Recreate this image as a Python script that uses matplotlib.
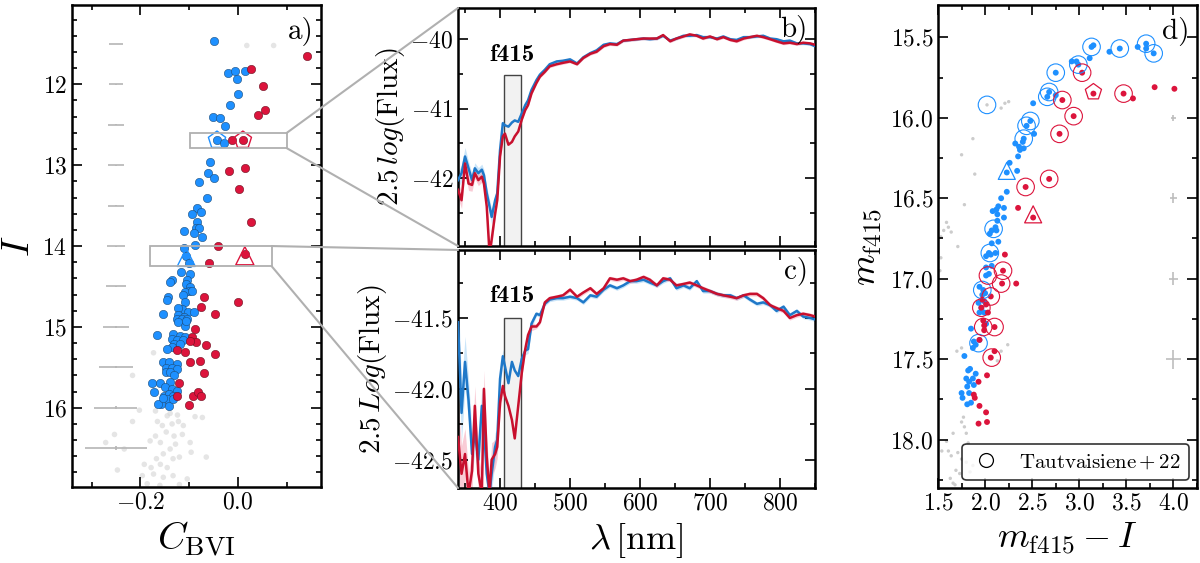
import matplotlib
matplotlib.use('Agg')
import matplotlib.pyplot as plt
from matplotlib.patches import Rectangle, ConnectionPatch
from matplotlib.lines import Line2D
from matplotlib.ticker import MultipleLocator

plt.rcParams['font.family'] = 'serif'
plt.rcParams['font.serif'] = ['cmr10']
plt.rcParams['mathtext.fontset'] = 'cm'
plt.rcParams['axes.formatter.use_mathtext'] = True

BLUE = '#1e90ff'
RED = '#dc143c'
BLUE_LINE = '#1f78c8'
RED_LINE = '#c8102e'

# ---- panel a: C_BVI vs I ----
blue_a_x = [-0.049, -0.020, -0.006, -0.002, 0.014, 0.000, -0.016, -0.051, -0.037, -0.027,
            -0.043, -0.029, -0.057, -0.061, -0.049, -0.080, -0.063, -0.084, -0.076, -0.094,
            -0.084, -0.086, -0.080, -0.110, -0.090, -0.073, -0.088, -0.110, -0.106, -0.100,
            -0.116, -0.098, -0.135, -0.139, -0.104, -0.106, -0.098, -0.100, -0.108, -0.094,
            -0.112, -0.143, -0.145, -0.108, -0.114, -0.122, -0.102, -0.090, -0.153, -0.122,
            -0.110, -0.124, -0.114, -0.104, -0.122, -0.108, -0.106, -0.165, -0.133, -0.118,
            -0.108, -0.135, -0.124, -0.112, -0.131, -0.118, -0.135, -0.145, -0.153, -0.141,
            -0.124, -0.147, -0.135, -0.124, -0.147, -0.139, -0.131, -0.139, -0.176, -0.159,
            -0.149, -0.135, -0.124, -0.173, -0.151, -0.141, -0.133, -0.145, -0.157, -0.163,
            -0.141, -0.153, -0.133]
blue_a_y = [11.46, 11.86, 11.84, 11.93, 11.83, 12.12, 12.26, 12.40, 12.42, 12.52,
            12.69, 12.73, 12.96, 13.10, 13.16, 13.21, 13.40, 13.53, 13.58, 13.60,
            13.70, 13.78, 13.78, 13.82, 13.84, 13.89, 13.99, 14.02, 14.12, 14.21,
            14.32, 14.35, 14.42, 14.45, 14.42, 14.47, 14.51, 14.56, 14.57, 14.55,
            14.60, 14.63, 14.67, 14.69, 14.78, 14.77, 14.81, 14.81, 14.84, 14.85,
            14.88, 14.90, 14.90, 14.90, 14.94, 14.99, 14.93, 15.10, 15.09, 15.11,
            15.12, 15.15, 15.16, 15.16, 15.21, 15.21, 15.25, 15.27, 15.44, 15.43,
            15.46, 15.51, 15.51, 15.52, 15.56, 15.56, 15.60, 15.68, 15.69, 15.69,
            15.74, 15.77, 15.79, 15.81, 15.85, 15.83, 15.85, 15.89, 15.95, 15.95,
            15.98, 15.88, 15.89]

red_a_x = [0.141, 0.027, 0.051, 0.055, 0.041, -0.012, 0.010, -0.018, 0.014, 0.002,
           0.027, -0.041, -0.059, 0.014, -0.069, 0.000, -0.076, -0.047, -0.088, -0.094,
           -0.086, -0.098, -0.065, -0.047, -0.124, -0.108, -0.098, -0.078, -0.069, -0.120,
           -0.124, -0.092, -0.082, -0.076, -0.100]
red_a_y = [11.65, 11.81, 12.02, 12.32, 12.38, 12.69, 12.69, 13.07, 13.04, 13.30,
           13.70, 14.00, 14.21, 14.10, 14.63, 14.69, 14.76, 14.84, 15.02, 15.12,
           15.19, 15.17, 15.23, 15.33, 15.28, 15.31, 15.43, 15.42, 15.57, 15.70,
           15.86, 15.86, 15.80, 15.85, 15.96]

gray_a_x = [0.018, 0.073, -0.173, -0.216, -0.202, -0.216, -0.169, -0.145, -0.139, -0.124,
            -0.088, -0.073, -0.165, -0.155, -0.135, -0.122, -0.112, -0.169, -0.131, -0.114,
            -0.098, -0.253, -0.271, -0.233, -0.180, -0.159, -0.139, -0.153, -0.167, -0.133,
            -0.120, -0.096, -0.065, -0.192, -0.178, -0.159, -0.145, -0.247, -0.196, -0.173,
            -0.153, -0.133, -0.104, -0.186, -0.160, -0.120, -0.147, -0.128]
gray_a_y = [11.52, 11.52, 15.32, 15.60, 16.03, 16.17, 16.04, 16.10, 16.07, 16.09,
            16.11, 16.12, 16.17, 16.22, 16.20, 16.17, 16.22, 16.35, 16.35, 16.33,
            16.43, 16.33, 16.43, 16.51, 16.41, 16.43, 16.51, 16.57, 16.63, 16.63,
            16.61, 16.55, 16.61, 16.70, 16.74, 16.70, 16.74, 16.77, 16.84, 16.82,
            16.86, 16.84, 16.88, 16.94, 16.96, 16.95, 16.30, 16.45]

err_a_mag = [11.5, 12.0, 12.5, 13.0, 13.5, 14.0, 14.5, 15.0, 15.5, 16.0, 16.5]
err_a_col = [0.015, 0.015, 0.016, 0.017, 0.017, 0.018, 0.020, 0.026, 0.034, 0.044, 0.063]
err_a_magerr = [0.004, 0.004, 0.004, 0.005, 0.005, 0.006, 0.007, 0.009, 0.012, 0.016, 0.022]

# ---- panels b, c: spectra ----
lam = [340, 345, 350, 355, 360, 364, 369, 374, 377, 381, 385, 388, 393, 396, 400,
       404, 407, 412, 417, 421, 426, 431, 436, 440, 445, 452, 457, 464, 471, 481,
       490, 500, 510, 519, 529, 538, 548, 557, 567, 576, 586, 595, 605, 614, 624,
       633, 643, 652, 662, 671, 681, 690, 700, 710, 719, 729, 738, 748, 757, 767,
       776, 786, 795, 805, 814, 824, 833, 843, 850]

flux_b_blue = [-42.03, -41.93, -41.69, -41.86, -42.03, -41.86, -41.93, -41.88, -41.96, -42.22,
               -42.41, -42.56, -42.32, -42.22, -41.60, -41.21, -41.24, -41.26, -41.20, -41.17,
               -41.19, -41.07, -40.95, -40.88, -40.73, -40.59, -40.51, -40.44, -40.36, -40.32,
               -40.31, -40.29, -40.35, -40.26, -40.20, -40.16, -40.08, -40.06, -40.07, -40.02,
               -40.01, -40.00, -39.99, -40.00, -39.99, -39.95, -40.02, -39.99, -39.95, -39.95,
               -39.94, -39.97, -39.97, -39.99, -39.96, -40.00, -40.01, -39.97, -39.97, -39.96,
               -39.95, -39.99, -40.00, -40.03, -40.02, -40.06, -40.06, -40.07, -40.10]
flux_b_red = [-42.17, -42.32, -41.79, -42.08, -42.10, -41.93, -42.03, -41.98, -42.08, -42.41,
              -43.09, -42.89, -42.51, -42.32, -41.69, -41.40, -41.36, -41.52, -41.48, -41.40,
              -41.33, -41.16, -41.02, -40.95, -40.78, -40.63, -40.54, -40.47, -40.39, -40.36,
              -40.34, -40.32, -40.36, -40.27, -40.21, -40.18, -40.10, -40.07, -40.08, -40.02,
              -40.01, -40.00, -39.99, -39.99, -39.99, -39.94, -40.03, -39.99, -39.96, -39.93,
              -39.95, -39.99, -39.96, -40.00, -39.97, -40.01, -40.03, -39.99, -39.97, -39.95,
              -39.97, -40.00, -40.03, -40.06, -40.05, -40.07, -40.05, -40.06, -40.08]
err_b = ([0.12, 0.12, 0.13, 0.10, 0.09, 0.08, 0.08, 0.08, 0.08, 0.09,
          0.10, 0.11, 0.08, 0.07, 0.05, 0.04, 0.03, 0.03, 0.03, 0.03]
         + [0.02] * 49)

flux_c_blue = [-41.53, -42.17, -41.81, -42.08, -42.46, -42.31, -42.50, -42.12, -42.27, -42.60,
               -42.74, -42.60, -42.41, -42.36, -41.93, -41.77, -41.84, -41.96, -41.81, -41.87,
               -41.91, -41.79, -41.73, -41.72, -41.54, -41.47, -41.48, -41.40, -41.37, -41.36,
               -41.36, -41.35, -41.36, -41.39, -41.34, -41.35, -41.30, -41.27, -41.29, -41.27,
               -41.24, -41.24, -41.23, -41.25, -41.27, -41.24, -41.22, -41.29, -41.27, -41.29,
               -41.24, -41.31, -41.31, -41.33, -41.34, -41.34, -41.36, -41.34, -41.37, -41.40,
               -41.39, -41.41, -41.45, -41.42, -41.48, -41.45, -41.49, -41.50, -41.51]
flux_c_red = [-42.34, -42.60, -42.46, -42.74, -42.58, -42.12, -42.60, -42.74, -42.00, -42.48,
              -42.74, -42.50, -42.46, -42.41, -42.10, -41.98, -42.05, -42.12, -42.22, -42.35,
              -42.12, -41.89, -41.72, -41.62, -41.56, -41.56, -41.53, -41.39, -41.36, -41.35,
              -41.34, -41.30, -41.35, -41.32, -41.29, -41.33, -41.29, -41.22, -41.23, -41.22,
              -41.24, -41.23, -41.21, -41.23, -41.27, -41.22, -41.23, -41.27, -41.26, -41.25,
              -41.27, -41.29, -41.31, -41.33, -41.34, -41.35, -41.36, -41.34, -41.33, -41.33,
              -41.36, -41.41, -41.43, -41.45, -41.50, -41.48, -41.47, -41.48, -41.49]
err_c = ([0.25, 0.20, 0.18, 0.15, 0.15, 0.14, 0.14, 0.13, 0.13, 0.13,
          0.12, 0.12, 0.10, 0.08, 0.06, 0.05, 0.04, 0.04, 0.04, 0.04,
          0.03, 0.03, 0.03, 0.03, 0.03]
         + [0.015] * 44)

f415_lo, f415_hi = 405, 430

# ---- panel d: m_f415 - I vs m_f415 ----
blue_d_x = [3.13, 3.15, 3.32, 3.43, 3.62, 3.71, 3.71, 3.79, 3.11, 2.92, 2.99, 2.97,
            2.75, 2.68, 2.66, 2.75, 2.51, 2.48, 2.44, 2.52, 2.41, 2.40, 2.32, 2.36,
            2.41, 2.37, 2.35, 2.26, 2.23, 2.34, 2.23, 2.17, 2.14, 2.12, 2.20, 2.08,
            2.13, 2.20, 2.13, 2.11, 2.07, 2.12, 2.05, 2.14, 2.07, 2.04, 2.01, 2.06,
            2.11, 2.01, 2.07, 2.01, 2.04, 1.94, 1.98, 1.97, 2.00, 1.93, 1.99, 1.96,
            1.94, 1.99, 2.01, 1.85, 1.88, 1.90, 1.87, 1.94, 1.78, 1.84, 1.82, 1.90,
            1.80, 1.83, 1.87, 1.81, 1.88, 1.75, 1.76, 1.83, 1.85, 1.81]
blue_d_y = [15.56, 15.55, 15.59, 15.57, 15.56, 15.54, 15.57, 15.60, 15.63, 15.65, 15.67, 15.65,
            15.72, 15.84, 15.87, 15.86, 15.91, 16.02, 16.05, 16.10, 16.13, 16.15, 16.16, 16.18,
            16.19, 16.20, 16.24, 16.28, 16.34, 16.33, 16.46, 16.50, 16.55, 16.57, 16.56, 16.58,
            16.60, 16.62, 16.64, 16.68, 16.70, 16.70, 16.72, 16.77, 16.78, 16.84, 16.86, 16.85,
            16.84, 16.93, 16.92, 16.98, 16.97, 17.05, 17.07, 17.10, 17.09, 17.15, 17.14, 17.18,
            17.21, 17.21, 17.28, 17.31, 17.39, 17.41, 17.43, 17.38, 17.48, 17.56, 17.57, 17.59,
            17.62, 17.64, 17.62, 17.67, 17.66, 17.71, 17.74, 17.71, 17.77, 17.78]

red_d_x = [3.03, 3.47, 3.57, 3.80, 4.01, 2.82, 2.94, 2.79, 2.68, 2.43, 2.35,
           2.21, 2.19, 2.18, 2.33, 2.06, 1.97, 2.01, 1.96, 2.03, 1.98, 1.99, 2.10,
           1.99, 1.94, 2.10, 2.06, 2.02, 1.93, 1.88, 1.89, 1.94, 2.01, 2.02, 1.93]
red_d_y = [15.72, 15.85, 15.88, 15.81, 15.82, 15.89, 15.99, 16.10, 16.38, 16.43, 16.56,
           16.85, 16.95, 17.03, 17.03, 17.11, 17.13, 17.16, 17.18, 17.21, 17.26, 17.29, 17.30,
           17.32, 17.38, 17.45, 17.49, 17.60, 17.64, 17.72, 17.74, 17.79, 17.83, 17.89, 17.90]

tautv_blue_x = [2.02, 3.13, 3.43, 3.71, 3.79, 2.99, 2.75, 2.68, 2.66, 2.48, 2.44, 2.41,
                2.09, 2.05, 1.97, 1.93]
tautv_blue_y = [15.92, 15.56, 15.57, 15.54, 15.60, 15.67, 15.72, 15.84, 15.87, 16.02, 16.05, 16.13,
                16.69, 16.84, 17.07, 17.40]
tautv_red_x = [3.03, 3.47, 2.82, 2.94, 2.79, 2.68, 2.43, 2.19, 2.03, 2.17, 2.06, 1.96,
               1.98, 2.10, 2.07]
tautv_red_y = [15.72, 15.85, 15.89, 15.99, 16.10, 16.38, 16.43, 16.95, 16.98, 17.03, 17.11, 17.18,
               17.30, 17.30, 17.49]

gray_d_x = [2.02, 2.17, 2.21, 2.25, 1.87, 1.75, 1.89, 1.78, 1.59, 1.56, 1.61, 1.64,
            1.53, 1.71, 1.53, 1.52, 2.24, 2.17, 2.13, 1.75, 1.70, 1.77, 1.75, 1.78,
            1.80, 1.66, 1.61, 1.64, 1.71, 1.75, 1.80, 1.69, 1.73, 1.63, 1.66, 1.84,
            1.87, 1.59, 1.54, 1.82, 1.68]
gray_d_y = [15.92, 15.94, 15.91, 15.90, 16.13, 16.23, 16.35, 16.54, 16.65, 16.70, 16.68, 16.71,
            16.74, 16.80, 16.87, 16.95, 17.41, 17.45, 17.51, 17.43, 17.45, 17.86, 17.89, 17.92,
            17.96, 17.96, 18.07, 18.10, 18.08, 18.12, 18.14, 18.19, 18.21, 18.24, 18.27, 18.20,
            18.16, 18.01, 18.07, 18.02, 18.28]

err_d_mag = [15.5, 16.0, 16.5, 17.0, 17.5]
err_d_col = [0.02, 0.03, 0.04, 0.05, 0.08]
err_d_magerr = [0.01, 0.02, 0.03, 0.04, 0.06]

fig = plt.figure(figsize=(12, 5.63), dpi=100)
ax_a = fig.add_axes([0.060, 0.135, 0.2075, 0.856])
ax_b = fig.add_axes([0.3817, 0.563, 0.2975, 0.4228])
ax_c = fig.add_axes([0.3817, 0.1332, 0.2975, 0.4228])
ax_d = fig.add_axes([0.7817, 0.1332, 0.2158, 0.8578])


def style(ax):
    for sp in ax.spines.values():
        sp.set_linewidth(1.8)
    ax.tick_params(which='both', direction='in', top=True, right=True,
                   labelsize=17, width=1.2)
    ax.tick_params(which='major', length=7)
    ax.tick_params(which='minor', length=3.5)


# panel a
ax_a.scatter(gray_a_x, gray_a_y, s=16, color='#d4d4d4', alpha=0.6, edgecolors='none', zorder=1)
ax_a.errorbar([-0.25] * len(err_a_mag), err_a_mag, xerr=err_a_col, yerr=err_a_magerr,
              fmt='none', ecolor='#b5b5b5', elinewidth=1.2, zorder=1)
ax_a.scatter(blue_a_x, blue_a_y, s=36, color=BLUE, edgecolors='#1d4d7a', linewidths=0.4, zorder=3)
ax_a.scatter(red_a_x, red_a_y, s=36, color=RED, edgecolors='#6a1020', linewidths=0.4, zorder=3)
ax_a.scatter([-0.043], [12.69], s=170, marker='p', facecolors='none', edgecolors=BLUE, linewidths=1.0, zorder=4)
ax_a.scatter([0.010], [12.69], s=170, marker='p', facecolors='none', edgecolors=RED, linewidths=1.0, zorder=4)
ax_a.scatter([-0.106], [14.14], s=170, marker='^', facecolors='none', edgecolors=BLUE, linewidths=1.0, zorder=4)
ax_a.scatter([0.014], [14.12], s=170, marker='^', facecolors='none', edgecolors=RED, linewidths=1.0, zorder=4)
ax_a.add_patch(Rectangle((-0.098, 12.6), 0.198, 0.19, fill=False, edgecolor='#b0b0b0', lw=1.3, zorder=5))
ax_a.add_patch(Rectangle((-0.18, 14.0), 0.249, 0.25, fill=False, edgecolor='#b0b0b0', lw=1.3, zorder=5))
ax_a.set_xlim(-0.34, 0.17)
ax_a.set_ylim(16.98, 11.02)
ax_a.xaxis.set_major_locator(MultipleLocator(0.2))
ax_a.xaxis.set_minor_locator(MultipleLocator(0.1))
ax_a.yaxis.set_major_locator(MultipleLocator(1))
ax_a.yaxis.set_minor_locator(MultipleLocator(0.2))
ax_a.set_xlabel(r'$C_{\rm BVI}$', fontsize=28)
ax_a.set_ylabel(r'$I$', fontsize=28)
ax_a.text(0.97, 0.975, 'a)', transform=ax_a.transAxes, ha='right', va='top', fontsize=21)
style(ax_a)

# panels b and c
for ax, fb, fr, err, ylab, lab in [
        (ax_b, flux_b_blue, flux_b_red, err_b, r'$2.5\,log(\rm Flux)$', 'b)'),
        (ax_c, flux_c_blue, flux_c_red, err_c, r'$2.5\,Log(\rm Flux)$', 'c)')]:
    lo_b = [f - e for f, e in zip(fb, err)]
    hi_b = [f + e for f, e in zip(fb, err)]
    lo_r = [f - e for f, e in zip(fr, err)]
    hi_r = [f + e for f, e in zip(fr, err)]
    ax.fill_between(lam, lo_b, hi_b, color='#9fd0f5', alpha=0.55, lw=0, zorder=1)
    ax.fill_between(lam, lo_r, hi_r, color='#f5a3b5', alpha=0.55, lw=0, zorder=1)
    ax.plot(lam, fb, color=BLUE_LINE, lw=1.8, zorder=3)
    ax.plot(lam, fr, color=RED_LINE, lw=1.8, zorder=3)
    ax.set_xlim(340, 850)
    ax.xaxis.set_major_locator(MultipleLocator(100))
    ax.xaxis.set_minor_locator(MultipleLocator(50))
    ax.set_ylabel(ylab, fontsize=21, labelpad=2)
    ax.text(0.98, 0.97, lab, transform=ax.transAxes, ha='right', va='top', fontsize=21)
    style(ax)

ax_b.set_ylim(-42.98, -39.55)
ax_b.yaxis.set_major_locator(MultipleLocator(1))
ax_b.yaxis.set_minor_locator(MultipleLocator(0.5))
ax_b.tick_params(labelbottom=False)
ax_b.add_patch(Rectangle((f415_lo, -43.5), f415_hi - f415_lo, 2.98, facecolor='#f2f2f2',
                         edgecolor='#444444', lw=1.0, zorder=2))
ax_b.text(417, -40.38, 'f415', family='cmb10', ha='center', va='bottom', fontsize=18)

ax_c.set_ylim(-42.7, -41.02)
ax_c.yaxis.set_major_locator(MultipleLocator(0.5))
ax_c.yaxis.set_minor_locator(MultipleLocator(0.25))
ax_c.add_patch(Rectangle((f415_lo, -43.0), f415_hi - f415_lo, 1.5, facecolor='#f2f2f2',
                         edgecolor='#444444', lw=1.0, zorder=2))
ax_c.text(417, -41.42, 'f415', family='cmb10', ha='center', va='bottom', fontsize=18)
ax_c.set_xlabel(r'$\lambda\,[\rm nm]$', fontsize=26)

# panel d
ax_d.scatter(gray_d_x, gray_d_y, s=6, color='#cccccc', edgecolors='none', zorder=1)
ax_d.errorbar([4.0] * len(err_d_mag), err_d_mag, xerr=err_d_col, yerr=err_d_magerr,
              fmt='none', ecolor='#bdbdbd', elinewidth=1.2, zorder=1)
ax_d.scatter(blue_d_x, blue_d_y, s=18, color=BLUE, edgecolors='none', zorder=3)
ax_d.scatter(red_d_x, red_d_y, s=18, color=RED, edgecolors='none', zorder=3)
ax_d.scatter(tautv_blue_x, tautv_blue_y, s=160, facecolors='none', edgecolors=BLUE, linewidths=0.8, zorder=4)
ax_d.scatter(tautv_red_x, tautv_red_y, s=160, facecolors='none', edgecolors=RED, linewidths=0.8, zorder=4)
ax_d.scatter([3.15], [15.84], s=150, marker='p', facecolors='none', edgecolors=RED, linewidths=0.9, zorder=4)
ax_d.scatter([2.23], [16.33], s=150, marker='^', facecolors='none', edgecolors=BLUE, linewidths=0.9, zorder=4)
ax_d.scatter([2.51], [16.60], s=150, marker='^', facecolors='none', edgecolors=RED, linewidths=0.9, zorder=4)
ax_d.scatter([3.15], [15.85], s=18, color=RED, edgecolors='none', zorder=3)
ax_d.scatter([2.51], [16.62], s=18, color=RED, edgecolors='none', zorder=3)
ax_d.set_xlim(1.5, 4.25)
ax_d.set_ylim(18.3, 15.3)
ax_d.xaxis.set_major_locator(MultipleLocator(0.5))
ax_d.xaxis.set_minor_locator(MultipleLocator(0.25))
ax_d.yaxis.set_major_locator(MultipleLocator(0.5))
ax_d.yaxis.set_minor_locator(MultipleLocator(0.25))
ax_d.set_xlabel(r'$m_{\rm f415}-I$', fontsize=26)
ax_d.set_ylabel(r'$m_{\rm f415}$', fontsize=26)
ax_d.text(0.97, 0.975, 'd)', transform=ax_d.transAxes, ha='right', va='top', fontsize=21)
handle = Line2D([], [], marker='o', ls='', mfc='none', mec='k', ms=10, mew=0.9)
leg = ax_d.legend([handle], [r'$\rm Tautvaisiene+22$'], loc='lower right', fontsize=15,
                  frameon=True, fancybox=True, borderaxespad=0.4, handletextpad=0.8,
                  handlelength=1.5)
leg.get_frame().set_edgecolor('black')
leg.get_frame().set_linewidth(1.2)
style(ax_d)

# zoom connectors from panel a boxes to spectra panels
for xyA, ax_t, xyB in [((0.1, 12.6), ax_b, (0, 1)), ((0.1, 12.79), ax_b, (0, 0)),
                       ((0.069, 14.0), ax_c, (0, 1)), ((0.069, 14.25), ax_c, (0, 0))]:
    con = ConnectionPatch(xyA=xyA, coordsA=ax_a.transData, xyB=xyB, coordsB=ax_t.transAxes,
                          color='#b0b0b0', lw=1.5)
    fig.add_artist(con)

fig.savefig('out.png', dpi=100)
